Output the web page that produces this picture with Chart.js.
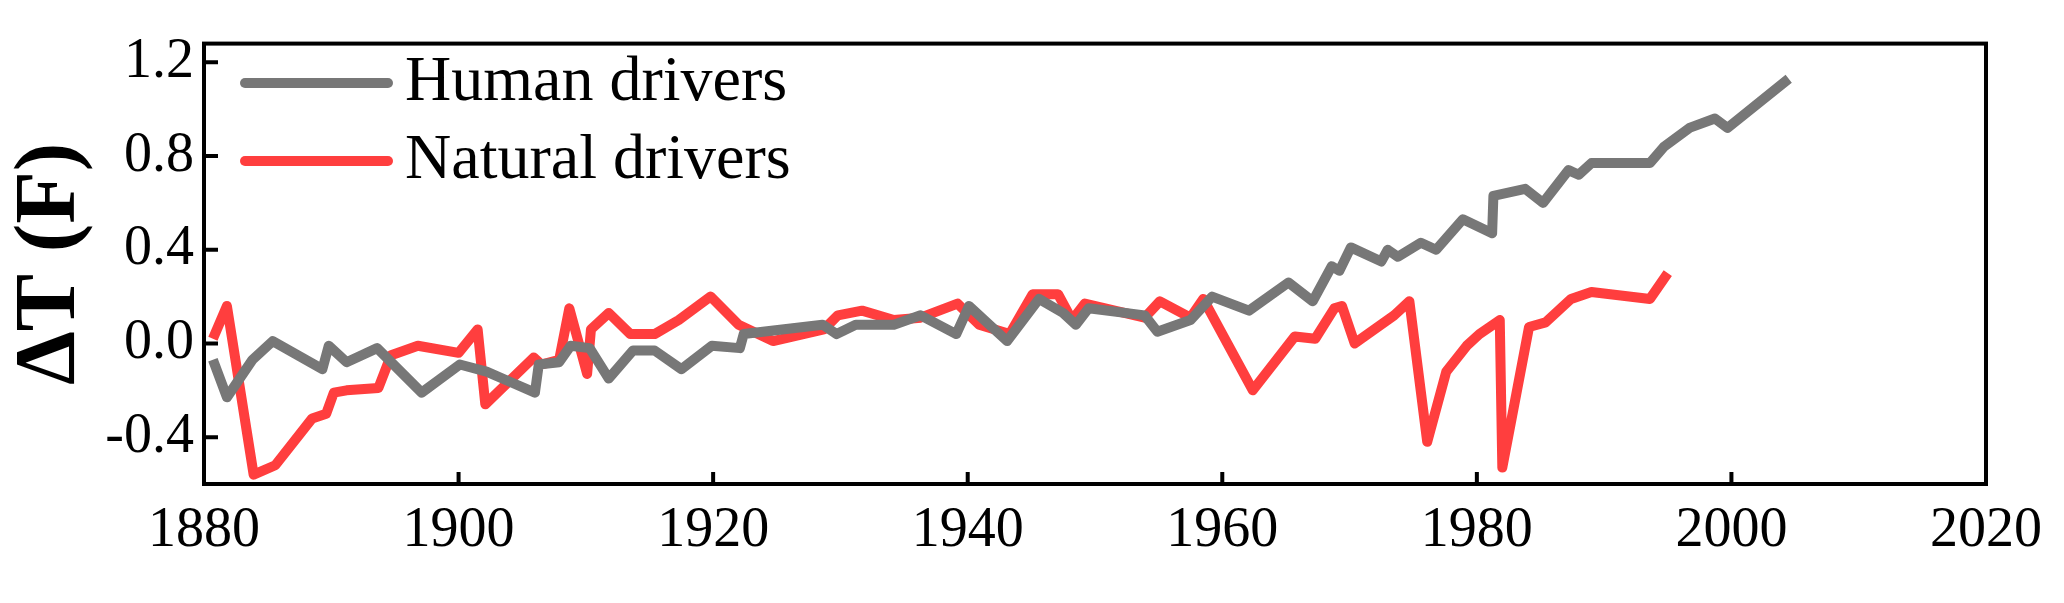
<!DOCTYPE html>
<html lang="en">
<head>
  <meta charset="utf-8">
  <title>Human vs natural drivers</title>
  <script src="https://cdn.jsdelivr.net/npm/chart.js@4.4.1/dist/chart.umd.min.js"></script>
  <style>
    body { margin: 0; background: #fff; }
  </style>
</head>
<body>
  <canvas id="myChart" width="2064" height="603"></canvas>

  <script>
    const humanYears = [1880.7, 1881.8, 1883.8, 1885.4, 1889.3, 1889.8, 1891.2, 1893.6, 1897.1, 1900.1, 1902.2, 1904.3, 1906.0, 1906.3, 1907.9, 1908.8, 1910.3, 1911.8, 1913.7, 1915.4, 1917.5, 1919.9, 1922.1, 1922.4, 1928.6, 1929.7, 1931.2, 1934.2, 1936.3, 1939.1, 1940.1, 1943.1, 1945.6, 1947.5, 1948.5, 1949.5, 1953.9, 1954.9, 1957.5, 1959.2, 1962.1, 1965.2, 1967.1, 1968.6, 1969.2, 1970.1, 1972.5, 1973.0, 1973.8, 1975.6, 1976.8, 1978.9, 1981.2, 1981.3, 1983.8, 1985.2, 1987.2, 1988.0, 1989.0, 1993.6, 1994.7, 1996.7, 1998.7, 1999.7, 2004.5];
    const humanValues = [-0.07, -0.23, -0.07, 0.01, -0.11, -0.01, -0.08, -0.02, -0.21, -0.09, -0.12, -0.17, -0.21, -0.09, -0.08, -0.01, -0.02, -0.15, -0.03, -0.03, -0.11, -0.01, -0.02, 0.04, 0.08, 0.04, 0.08, 0.08, 0.12, 0.04, 0.16, 0.01, 0.19, 0.13, 0.08, 0.15, 0.12, 0.05, 0.10, 0.20, 0.14, 0.26, 0.18, 0.33, 0.31, 0.41, 0.35, 0.40, 0.37, 0.43, 0.40, 0.53, 0.47, 0.63, 0.66, 0.60, 0.74, 0.72, 0.77, 0.77, 0.84, 0.92, 0.96, 0.92, 1.13];

    const naturalYears = [1880.7, 1881.8, 1883.9, 1885.6, 1888.5, 1889.6, 1890.2, 1891.2, 1893.7, 1894.7, 1896.8, 1900.0, 1901.5, 1902.1, 1905.9, 1906.5, 1907.9, 1908.7, 1910.1, 1910.4, 1911.8, 1913.5, 1915.4, 1917.3, 1919.8, 1922.0, 1924.7, 1928.7, 1929.8, 1931.7, 1934.2, 1936.3, 1939.2, 1940.9, 1943.3, 1945.1, 1947.1, 1948.2, 1949.2, 1953.9, 1955.1, 1957.5, 1958.5, 1962.4, 1965.7, 1967.3, 1968.8, 1969.4, 1970.4, 1973.5, 1974.7, 1976.1, 1977.6, 1979.2, 1980.2, 1981.8, 1982.0, 1984.1, 1985.4, 1987.4, 1989.0, 1993.6, 1995.0];
    const naturalValues = [0.02, 0.16, -0.56, -0.52, -0.32, -0.30, -0.21, -0.20, -0.19, -0.05, -0.01, -0.04, 0.06, -0.26, -0.06, -0.09, -0.07, 0.15, -0.13, 0.06, 0.13, 0.04, 0.04, 0.10, 0.20, 0.08, 0.01, 0.06, 0.12, 0.14, 0.10, 0.11, 0.17, 0.08, 0.04, 0.21, 0.21, 0.10, 0.17, 0.11, 0.18, 0.11, 0.19, -0.20, 0.03, 0.02, 0.15, 0.16, 0.00, 0.12, 0.18, -0.42, -0.12, -0.01, 0.04, 0.10, -0.53, 0.07, 0.09, 0.19, 0.22, 0.19, 0.30];

    const yTicks = [-0.4, 0.0, 0.4, 0.8, 1.2];
    const xTicks = [1880, 1900, 1920, 1940, 1960, 1980, 2000, 2020];

    const toPoints = (xs, ys) => xs.map((x, i) => ({ x: x, y: ys[i] }));

    const serif = "'Liberation Serif', 'DejaVu Serif', serif";

    // frame, inward ticks and the legend in the upper left
    const framePlugin = {
      id: 'frame',
      afterDraw(chart) {
        const ctx = chart.ctx;
        const a = chart.chartArea;
        const xs = chart.scales.x, ys = chart.scales.y;
        ctx.save();
        ctx.strokeStyle = '#000';
        ctx.lineWidth = 4;
        ctx.strokeRect(a.left, a.top, a.right - a.left, a.bottom - a.top);
        ctx.beginPath();
        xTicks.forEach(t => {
          const px = xs.getPixelForValue(t);
          ctx.moveTo(px, a.bottom); ctx.lineTo(px, a.bottom - 12);
        });
        yTicks.forEach(t => {
          const py = ys.getPixelForValue(t);
          ctx.moveTo(a.left, py); ctx.lineTo(a.left + 14, py);
        });
        ctx.stroke();

        // legend
        ctx.font = '64px ' + serif;
        ctx.textBaseline = 'middle';
        chart.data.datasets.forEach((ds, i) => {
          const y = 83 + i * 78;
          ctx.strokeStyle = ds.borderColor;
          ctx.lineWidth = 10;
          ctx.lineCap = 'round';
          ctx.beginPath();
          ctx.moveTo(245, y); ctx.lineTo(388, y);
          ctx.stroke();
          ctx.fillStyle = '#000';
          ctx.fillText(ds.label, 405, y);
        });
        ctx.restore();
      }
    };

    new Chart("myChart", {
      type: "line",
      data: {
        datasets: [{
          label: "Human drivers",
          data: toPoints(humanYears, humanValues),
          borderColor: "#777777",
          borderWidth: 10,
          pointRadius: 0,
          tension: 0,
          borderJoinStyle: 'round'
        }, {
          label: "Natural drivers",
          data: toPoints(naturalYears, naturalValues),
          borderColor: "#ff3e3e",
          borderWidth: 10,
          pointRadius: 0,
          tension: 0,
          borderJoinStyle: 'round'
        }]
      },
      options: {
        responsive: false,
        animation: false,
        devicePixelRatio: 1,
        layout: { padding: { top: 40, right: 78, left: 0, bottom: 0 } },
        plugins: { legend: { display: false }, tooltip: { enabled: false } },
        scales: {
          x: {
            type: 'linear',
            min: 1880, max: 2020,
            afterBuildTicks: s => { s.ticks = xTicks.map(v => ({ value: v })); },
            afterFit: s => { s.height = 119; },
            grid: { display: false, drawTicks: false },
            border: { display: false },
            ticks: { color: '#000', font: { family: serif, size: 56 }, padding: 14,
                     maxRotation: 0, callback: v => String(v) }
          },
          y: {
            min: -0.6, max: 1.28,
            afterBuildTicks: s => { s.ticks = yTicks.map(v => ({ value: v })); },
            afterFit: s => { s.width = 204; },
            grid: { display: false, drawTicks: false },
            border: { display: false },
            ticks: { color: '#000', font: { family: serif, size: 56 }, padding: 10,
                     callback: v => v.toFixed(1) },
            title: { display: true, text: 'ΔT (F)', color: '#000', padding: 0,
                     font: { family: serif, size: 86, weight: 'bold' } }
          }
        }
      },
      plugins: [framePlugin]
    });
  </script>
</body>
</html>
